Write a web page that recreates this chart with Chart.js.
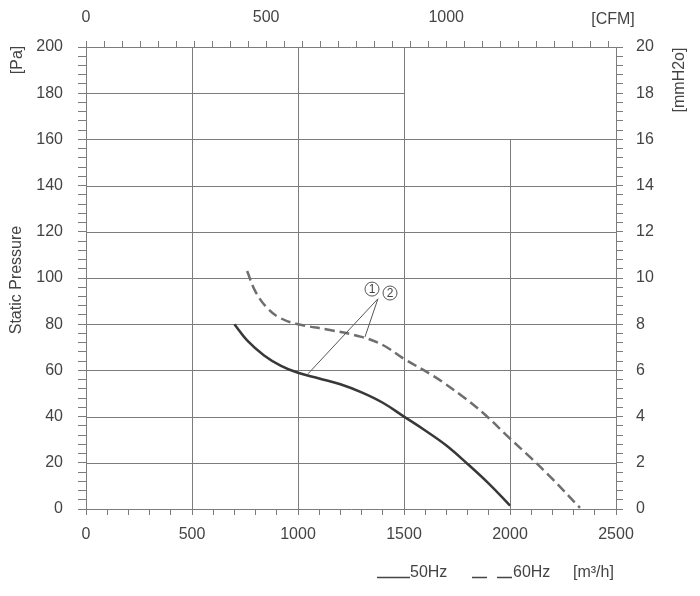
<!DOCTYPE html>
<html>
<head>
<meta charset="utf-8">
<title>Static pressure curve</title>
<script src="https://cdn.jsdelivr.net/npm/chart.js@4.4.1/dist/chart.umd.min.js"></script>
<style>
  html, body { margin: 0; padding: 0; background: #fff; }
  #chart { display: block; }
</style>
</head>
<body>
<canvas id="chart" width="700" height="596"></canvas>
<script>
// airflow [m3/h] and static pressure [Pa]
const flow50 = [700, 760, 840, 920, 1000, 1100, 1200, 1300, 1400, 1500, 1600, 1700, 1800, 1900, 2000];
const pressure50 = [80, 73, 66.5, 62, 59, 56.5, 54, 50.5, 46, 40, 34, 27.5, 19.5, 11, 1.5];
const flow60 = [760, 800, 860, 920, 1000, 1150, 1300, 1400, 1500, 1640, 1780, 1880, 2000, 2100, 2200, 2330];
const pressure60 = [103, 94, 86.5, 82.5, 80, 77.5, 74.5, 71, 65, 57.5, 48.5, 41, 30.5, 22, 13, 0.5];

const seriesNames = ["50Hz", "60Hz"];
const flowLabels = [0, 500, 1000, 1500, 2000, 2500];
const cfmLabels = [0, 500, 1000];
const paLabels = [0, 20, 40, 60, 80, 100, 120, 140, 160, 180, 200];
const mmLabels = [0, 2, 4, 6, 8, 10, 12, 14, 16, 18, 20];
const M3H_PER_CFM = 1.699;

// grid lines do not cover the top right corner
const gridRows = [20, 40, 60, 80, 100, 120, 140, 160, 180];
const gridRowEnd = [2500, 2500, 2500, 2500, 2500, 2500, 2500, 2500, 1500];
const gridCols = [500, 1000, 1500, 2000];
const gridColTop = [200, 200, 200, 160];

// leader lines for the curve markers 1 and 2
const leaderStart = [1377, 91];
const leaderEnds = [[1047, 58.5], [1316, 74.5]];
const markerPos = [[1349, 95.2], [1434, 93.5]];
const markerText = ["1", "2"];

const FONT = "'Liberation Sans', Arial, sans-serif";
const TEXT = "#444";
const GRID = "#7c7c7c";

const pts = (xs, ys) => xs.map((v, i) => ({ x: v, y: ys[i] }));
const near = (v, list) => list.some(t => Math.abs(t - v) < 1e-6);

function axis(position, min, max, step, labels, tickLen, pad, size) {
  return {
    type: "linear",
    position: position,
    min: min,
    max: max,
    grid: { drawOnChartArea: false, drawTicks: true, tickLength: tickLen, color: GRID, lineWidth: 1 },
    border: { display: true, color: GRID, width: 1 },
    ticks: {
      stepSize: step,
      autoSkip: false,
      includeBounds: false,
      maxRotation: 0,
      padding: pad,
      color: TEXT,
      font: { family: FONT, size: 16 },
      callback: v => near(v, labels) ? String(Math.round(v)) : ""
    },
    afterFit: s => {
      if (position === "left" || position === "right") s.width = size; else s.height = size;
    }
  };
}

const extras = {
  id: "extras",
  beforeDatasetsDraw(chart) {
    const { ctx, scales: { x, y } } = chart;
    ctx.save();
    ctx.strokeStyle = GRID;
    ctx.lineWidth = 1;
    gridRows.forEach((v, i) => {
      const py = Math.round(y.getPixelForValue(v)) + 0.5;
      ctx.beginPath();
      ctx.moveTo(x.getPixelForValue(0), py);
      ctx.lineTo(x.getPixelForValue(gridRowEnd[i]), py);
      ctx.stroke();
    });
    gridCols.forEach((v, i) => {
      const px = Math.round(x.getPixelForValue(v)) + 0.5;
      ctx.beginPath();
      ctx.moveTo(px, y.getPixelForValue(0));
      ctx.lineTo(px, y.getPixelForValue(gridColTop[i]));
      ctx.stroke();
    });
    ctx.restore();
  },
  afterDraw(chart) {
    const { ctx, scales: { x, y } } = chart;
    ctx.save();

    // leader lines and circled numbers
    ctx.strokeStyle = "#555";
    ctx.lineWidth = 1;
    const sx = x.getPixelForValue(leaderStart[0]), sy = y.getPixelForValue(leaderStart[1]);
    leaderEnds.forEach(p => {
      ctx.beginPath();
      ctx.moveTo(sx, sy);
      ctx.lineTo(x.getPixelForValue(p[0]), y.getPixelForValue(p[1]));
      ctx.stroke();
    });
    ctx.fillStyle = TEXT;
    ctx.textAlign = "center";
    ctx.textBaseline = "middle";
    ctx.font = "12px " + FONT;
    markerPos.forEach((p, i) => {
      const px = x.getPixelForValue(p[0]), py = y.getPixelForValue(p[1]);
      ctx.fillStyle = "#fff";
      ctx.beginPath();
      ctx.arc(px, py, 7, 0, Math.PI * 2);
      ctx.fill();
      ctx.stroke();
      ctx.fillStyle = TEXT;
      ctx.fillText(markerText[i], px, py + 0.5);
    });

    // axis titles
    ctx.font = "16px " + FONT;
    ctx.fillText("[CFM]", 613, 20);
    const vtext = (t, px, py) => {
      ctx.save();
      ctx.translate(px, py);
      ctx.rotate(-Math.PI / 2);
      ctx.fillText(t, 0, 0);
      ctx.restore();
    };
    vtext("[Pa]", 18, 60);
    vtext("Static Pressure", 17, 280);
    vtext("[mmH2o]", 680, 80);

    // legend row
    ctx.strokeStyle = TEXT;
    ctx.lineWidth = 1.5;
    ctx.beginPath();
    ctx.moveTo(377, 577.5);
    ctx.lineTo(410, 577.5);
    ctx.stroke();
    ctx.setLineDash([15, 10]);
    ctx.beginPath();
    ctx.moveTo(472, 577.5);
    ctx.lineTo(512, 577.5);
    ctx.stroke();
    ctx.setLineDash([]);
    ctx.textAlign = "left";
    ctx.fillText(seriesNames[0], 410, 573);
    ctx.fillText(seriesNames[1], 513, 573);
    ctx.fillText("[m³/h]", 573, 573);
    ctx.restore();
  }
};

new Chart(document.getElementById("chart"), {
  type: "line",
  data: {
    datasets: [
      {
        label: seriesNames[0],
        data: pts(flow50, pressure50),
        borderColor: "#383838",
        borderWidth: 2.5,
        pointRadius: 0,
        tension: 0.4,
        xAxisID: "x",
        yAxisID: "y"
      },
      {
        label: seriesNames[1],
        data: pts(flow60, pressure60),
        borderColor: "#6e6e6e",
        borderWidth: 2.5,
        borderDash: [10, 5],
        pointRadius: 0,
        tension: 0.4,
        xAxisID: "x",
        yAxisID: "y"
      }
    ]
  },
  options: {
    responsive: false,
    animation: false,
    layout: { padding: 0 },
    plugins: { legend: { display: false }, tooltip: { enabled: false } },
    scales: {
      x: axis("bottom", 0, 2500, 100, flowLabels, 6, 10, 87),
      xTop: axis("top", 0, 2500 / M3H_PER_CFM, 50, cfmLabels, 6, 14, 47),
      y: axis("left", 0, 200, 4, paLabels, 8, 15, 86),
      y2: axis("right", 0, 20, 0.4, mmLabels, 7, 13, 84)
    }
  },
  plugins: [extras]
});
</script>
</body>
</html>
